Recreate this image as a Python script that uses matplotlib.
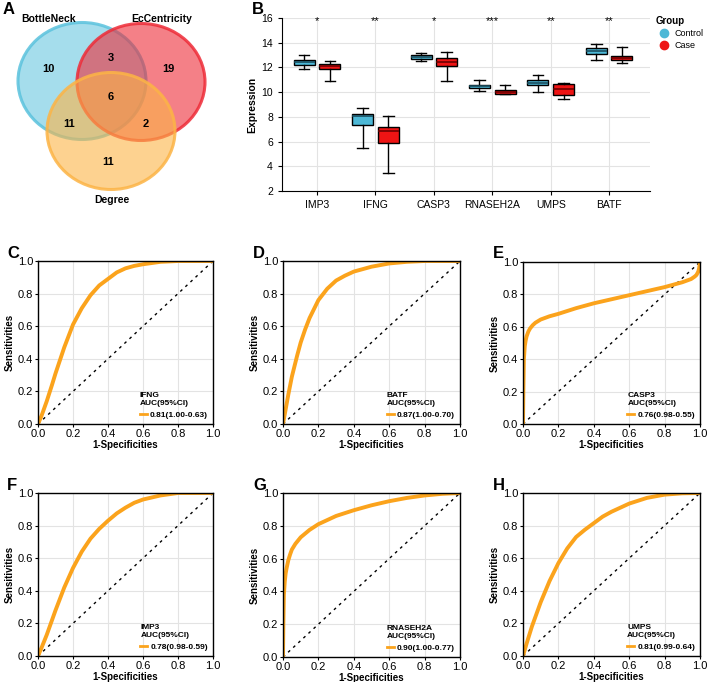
import matplotlib
matplotlib.use("Agg")
import matplotlib.pyplot as plt
from matplotlib.patches import Ellipse
from matplotlib.lines import Line2D

plt.rcParams["font.family"] = ["Liberation Sans", "DejaVu Sans"]

W, H = 710, 682

# ---- data -------------------------------------------------------------
venn_sets = ["BottleNeck", "EcCentricity", "Degree"]
venn_counts = {"B": 10, "E": 19, "D": 11, "BE": 3, "BD": 11, "ED": 2, "BED": 6}

genes = ["IMP3", "IFNG", "CASP3", "RNASEH2A", "UMPS", "BATF"]
stars = ["*", "**", "*", "***", "**", "**"]
# (whislo, q1, med, q3, whishi)
control_stats = [
    (11.87, 12.20, 12.44, 12.60, 13.00),
    (5.50, 7.34, 8.07, 8.26, 8.74),
    (12.55, 12.71, 12.84, 12.98, 13.14),
    (10.07, 10.34, 10.47, 10.60, 10.98),
    (10.04, 10.55, 10.77, 10.96, 11.41),
    (12.58, 13.09, 13.35, 13.57, 13.92),
]
case_stats = [
    (10.90, 11.90, 12.10, 12.30, 12.55),
    (3.46, 5.86, 6.88, 7.18, 8.07),
    (10.90, 12.09, 12.44, 12.79, 13.25),
    (9.82, 9.85, 10.01, 10.15, 10.60),
    (9.45, 9.77, 10.23, 10.64, 10.77),
    (12.34, 12.58, 12.74, 12.90, 13.65),
]

roc_ifng_x = [0, 0.02, 0.05, 0.08, 0.1, 0.15, 0.2, 0.25, 0.3, 0.35, 0.4, 0.45, 0.5, 0.55, 0.6, 0.7, 0.8, 0.9, 1.0]
roc_ifng_y = [0, 0.05, 0.14, 0.24, 0.31, 0.47, 0.61, 0.71, 0.79, 0.85, 0.89, 0.93, 0.955, 0.97, 0.98, 0.995, 1, 1, 1]

roc_batf_x = [0, 0.01, 0.03, 0.05, 0.08, 0.1, 0.125, 0.15, 0.2, 0.25, 0.3, 0.35, 0.4, 0.5, 0.6, 0.7, 0.8, 1.0]
roc_batf_y = [0, 0.06, 0.18, 0.29, 0.42, 0.5, 0.58, 0.65, 0.76, 0.83, 0.88, 0.91, 0.935, 0.965, 0.985, 0.995, 1, 1]

roc_casp3_x = [0, 0.002, 0.005, 0.01, 0.015, 0.02, 0.03, 0.04, 0.055, 0.07, 0.1, 0.15, 0.2, 0.3, 0.4, 0.5, 0.6, 0.7, 0.8, 0.9, 0.95, 0.97, 0.98, 0.99, 0.995, 1.0]
roc_casp3_y = [0, 0.2, 0.4, 0.48, 0.515, 0.54, 0.57, 0.59, 0.61, 0.625, 0.645, 0.665, 0.68, 0.715, 0.745, 0.77, 0.795, 0.82, 0.845, 0.875, 0.895, 0.91, 0.92, 0.94, 0.96, 1.0]

roc_imp3_x = [0, 0.02, 0.05, 0.08, 0.1, 0.15, 0.2, 0.25, 0.3, 0.35, 0.4, 0.45, 0.5, 0.55, 0.6, 0.7, 0.8, 0.9, 1.0]
roc_imp3_y = [0, 0.05, 0.13, 0.22, 0.28, 0.42, 0.54, 0.64, 0.72, 0.78, 0.83, 0.875, 0.91, 0.94, 0.96, 0.985, 1, 1, 1]

roc_rnaseh2a_x = [0, 0.002, 0.005, 0.01, 0.015, 0.02, 0.03, 0.04, 0.05, 0.07, 0.1, 0.15, 0.2, 0.3, 0.4, 0.5, 0.6, 0.7, 0.8, 0.9, 1.0]
roc_rnaseh2a_y = [0, 0.2, 0.38, 0.46, 0.51, 0.54, 0.59, 0.625, 0.655, 0.69, 0.73, 0.775, 0.81, 0.86, 0.895, 0.925, 0.95, 0.97, 0.985, 0.995, 1.0]

roc_umps_x = [0, 0.02, 0.05, 0.1, 0.15, 0.2, 0.25, 0.3, 0.35, 0.4, 0.45, 0.5, 0.6, 0.7, 0.8, 0.9, 1.0]
roc_umps_y = [0, 0.075, 0.18, 0.33, 0.46, 0.57, 0.66, 0.73, 0.775, 0.815, 0.855, 0.885, 0.935, 0.97, 0.99, 0.998, 1.0]

roc_panels = [
    ("C", "IFNG", "0.81(1.00-0.63)", roc_ifng_x, roc_ifng_y, (38, 261, 213, 424)),
    ("D", "BATF", "0.87(1.00-0.70)", roc_batf_x, roc_batf_y, (283, 261, 460, 424)),
    ("E", "CASP3", "0.76(0.98-0.55)", roc_casp3_x, roc_casp3_y, (523, 262, 700, 424)),
    ("F", "IMP3", "0.78(0.98-0.59)", roc_imp3_x, roc_imp3_y, (38, 493, 213, 656)),
    ("G", "RNASEH2A", "0.90(1.00-0.77)", roc_rnaseh2a_x, roc_rnaseh2a_y, (283, 493, 460, 657)),
    ("H", "UMPS", "0.81(0.99-0.64)", roc_umps_x, roc_umps_y, (523, 493, 700, 656)),
]

CONTROL = "#4DB8D6"
CASE = "#EE1414"
ORANGE = "#FBA31C"


def px_rect(l, t, r, b):
    """Pixel box (origin top-left) -> figure fraction rect."""
    return [l / W, 1 - b / H, (r - l) / W, (b - t) / H]


fig = plt.figure(figsize=(W / 100, H / 100), dpi=100)

# ---- A: Venn ----------------------------------------------------------
ax = fig.add_axes([0, 1 - 230 / H, 230 / W, 230 / H])
ax.set_xlim(0, 230)
ax.set_ylim(230, 0)
ax.axis("off")
circles = [
    ((82, 81), "#5BC2DD", 0.55),
    ((141, 82), "#EE2C38", 0.6),
    ((111, 131), "#FCB446", 0.6),
]
for (cx, cy), col, a in circles:
    ax.add_patch(Ellipse((cx, cy), 128, 117, facecolor=col, alpha=a, edgecolor="none"))
    ax.add_patch(Ellipse((cx, cy), 128, 117, facecolor="none", edgecolor=col, alpha=0.85, lw=2.2))
for name, (x, y) in zip(venn_sets, [(49, 19), (162, 19), (112, 200)]):
    ax.text(x, y, name, ha="center", va="center", fontsize=7.5, fontweight="bold")
count_pos = {"B": (48, 69), "E": (168, 69), "D": (108, 162), "BE": (111, 58),
             "BD": (69, 124), "ED": (146, 124), "BED": (111, 97)}
for key, (x, y) in count_pos.items():
    ax.text(x, y, str(venn_counts[key]), ha="center", va="center", fontsize=8, fontweight="bold")
fig.text(3 / W, 1 - 9 / H, "A", fontsize=12, fontweight="bold", va="center")

# ---- B: box plot ------------------------------------------------------
ax = fig.add_axes(px_rect(282, 18, 650, 191))
pos = list(range(1, len(genes) + 1))


def to_bxp(stats):
    return [dict(whislo=s[0], q1=s[1], med=s[2], q3=s[3], whishi=s[4], fliers=[]) for s in stats]


for stats, off, col, medc in [(control_stats, -0.22, CONTROL, "#1B4E5E"),
                               (case_stats, 0.22, CASE, "#6E0000")]:
    ax.bxp(to_bxp(stats), positions=[p + off for p in pos], widths=0.36,
           patch_artist=True, showfliers=False,
           boxprops=dict(facecolor=col, edgecolor="black", lw=1.0),
           medianprops=dict(color=medc, lw=1.2),
           whiskerprops=dict(color="black", lw=1.0),
           capprops=dict(color="black", lw=1.0), capwidths=0.18)
ax.set_xlim(0.4, 6.7)
ax.set_ylim(2, 16)
ax.set_yticks(range(2, 17, 2))
ax.set_xticks(pos)
ax.set_xticklabels(genes)
ax.grid(True, color="#E3E3E3", lw=0.8)
ax.set_axisbelow(True)
for s in ["top", "right"]:
    ax.spines[s].set_visible(False)
ax.tick_params(labelsize=7.5, length=3, width=0.8)
ax.set_ylabel("Expression", fontsize=7.5, fontweight="bold", labelpad=3)
for p, s in zip(pos, stars):
    ax.text(p, 15.75, s, ha="center", va="center", fontsize=8)
leg = ax.legend(handles=[Line2D([], [], marker="o", ls="", color=CONTROL, ms=6),
                         Line2D([], [], marker="o", ls="", color=CASE, ms=6)],
                labels=["Control", "Case"], title="Group", loc="upper left",
                bbox_to_anchor=(1.0, 1.04), frameon=False, fontsize=6.5,
                handletextpad=0.1, borderaxespad=0.2, labelspacing=0.3,
                title_fontproperties={"weight": "bold", "size": 7}, alignment="left")
fig.text(252 / W, 1 - 9 / H, "B", fontsize=12, fontweight="bold", va="center")

# ---- C-H: ROC curves --------------------------------------------------
for letter, gene, auc, xs, ys, box in roc_panels:
    ax = fig.add_axes(px_rect(*box))
    ax.plot([0, 1], [0, 1], color="black", ls=(0, (2, 3)), lw=1.0)
    ax.plot(xs, ys, color=ORANGE, lw=2.8, solid_capstyle="round", solid_joinstyle="round")
    ax.set_xlim(0, 1)
    ax.set_ylim(0, 1)
    ticks = [0, 0.2, 0.4, 0.6, 0.8, 1.0]
    ax.set_xticks(ticks)
    ax.set_yticks(ticks)
    ax.set_xticklabels([f"{t:.1f}" for t in ticks])
    ax.set_yticklabels([f"{t:.1f}" for t in ticks])
    ax.grid(True, color="#E3E3E3", lw=0.8)
    ax.set_axisbelow(True)
    for s in ax.spines.values():
        s.set_linewidth(1.0)
    ax.tick_params(labelsize=8, length=2.5, width=0.8, pad=1)
    ax.set_xlabel("1-Specificities", fontsize=7, fontweight="bold", labelpad=1)
    ax.set_ylabel("Sensitivities", fontsize=7, fontweight="bold", labelpad=2)
    ax.legend(handles=[Line2D([], [], color=ORANGE, lw=2)], labels=[auc],
              title=f"{gene}\nAUC(95%CI)", loc="lower right", frameon=False,
              handlelength=0.8, handletextpad=0.4, borderaxespad=0.2,
              prop={"weight": "bold", "size": 6},
              title_fontproperties={"weight": "bold", "size": 6}, alignment="left")
    l, t = box[0], box[1]
    fig.text((l - 31) / W if l < 100 else (l - 30) / W, 1 - (t - 8) / H, letter,
             fontsize=12, fontweight="bold", va="center")

fig.savefig("out.png", dpi=100)
